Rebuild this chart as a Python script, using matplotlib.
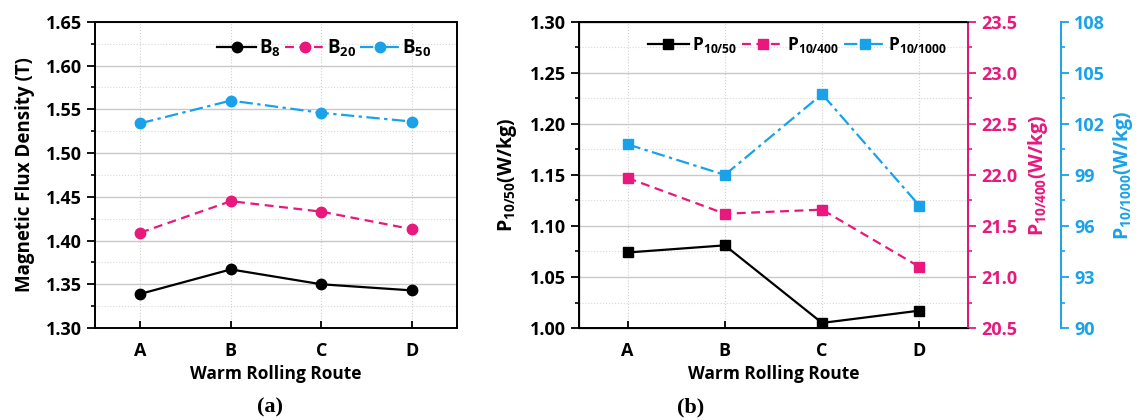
import numpy as np
import matplotlib
matplotlib.use("Agg")
import matplotlib.pyplot as plt
from matplotlib.ticker import AutoMinorLocator, MultipleLocator

plt.rcParams['font.family'] = ['Open Sans', 'DejaVu Sans']
plt.rcParams['font.weight'] = 'bold'
plt.rcParams['axes.labelweight'] = 'bold'
plt.rcParams['mathtext.fontset'] = 'custom'
plt.rcParams['mathtext.rm'] = 'Open Sans:bold'
plt.rcParams['mathtext.bf'] = 'Open Sans:bold'
plt.rcParams['mathtext.it'] = 'Open Sans:bold'

# data
routes = ['A', 'B', 'C', 'D']
b8 = [1.339, 1.367, 1.350, 1.343]
b20 = [1.409, 1.445, 1.433, 1.413]
b50 = [1.534, 1.560, 1.546, 1.536]

p10_50 = [1.074, 1.081, 1.005, 1.017]
p10_400 = [21.97, 21.62, 21.66, 21.10]
p10_1000 = [100.8, 99.0, 103.75, 97.2]

pink = '#E8187C'
blue = '#19A2EA'
x = np.arange(1, len(routes) + 1)

fig = plt.figure(figsize=(11.39, 4.2), dpi=100)
axa = fig.add_axes([0.0834, 0.219, 0.318, 0.729])
axb = fig.add_axes([0.5083, 0.219, 0.3415, 0.729])


def style_main(ax):
    ax.set_xlim(0.5, 4.5)
    ax.set_xticks(x)
    ax.set_xticklabels(routes, fontweight='bold')
    ax.yaxis.set_minor_locator(AutoMinorLocator(2))
    ax.tick_params(axis='x', direction='in', length=5, width=1.3, labelsize=13, pad=10)
    ax.tick_params(axis='y', which='major', direction='out', length=6, width=1.3, labelsize=13)
    ax.tick_params(axis='y', which='minor', direction='out', length=3, width=1.2)
    for t in ax.get_yticklabels():
        t.set_fontweight('bold')
    ax.grid(axis='y', which='major', color='#c8c8c8', lw=1.0)
    ax.grid(axis='y', which='minor', color='#d8d8d8', lw=0.8, ls=':')
    ax.grid(axis='x', which='major', color='#d0d0d0', lw=0.8, ls=':')
    ax.set_axisbelow(True)
    for s in ax.spines.values():
        s.set_linewidth(1.4)
    ax.set_xlabel('Warm Rolling Route', fontsize=12.5, labelpad=4, fontweight='bold')


# (a)
axa.plot(x, b8, '-', color='black', marker='o', ms=7.5, lw=1.6, label=r'B$_{8}$')
axa.plot(x, b20, '--', color=pink, marker='o', ms=7.5, lw=1.6, dashes=(4, 2.5), label=r'B$_{20}$')
axa.plot(x, b50, '-.', color=blue, marker='o', ms=7.5, lw=1.6, dashes=(6, 2, 1.5, 2), label=r'B$_{50}$')
axa.set_ylim(1.30, 1.65)
axa.yaxis.set_major_locator(MultipleLocator(0.05))
axa.yaxis.set_major_formatter('{x:.2f}')
style_main(axa)
axa.set_ylabel('Magnetic Flux Density (T)', fontsize=13.5, labelpad=8, fontweight='bold')
axa.legend(loc='center right', bbox_to_anchor=(0.955, 0.915), ncol=3, frameon=False,
           prop={'size': 13.5, 'weight': 'bold'}, handlelength=2.1, handletextpad=0.15,
           columnspacing=0.2, borderpad=0)

# (b)
l1, = axb.plot(x, p10_50, '-', color='black', marker='s', ms=7.5, lw=1.6, label=r'P$_{10/50}$')
axb.set_ylim(1.00, 1.30)
axb.yaxis.set_major_locator(MultipleLocator(0.05))
axb.yaxis.set_major_formatter('{x:.2f}')
style_main(axb)
axb.set_ylabel(r'P$_{10/50}$(W/kg)', fontsize=14, labelpad=8, fontweight='bold')

axp = axb.twinx()
l2, = axp.plot(x, p10_400, '--', color=pink, marker='s', ms=7.5, lw=1.6, dashes=(4, 2.5), label=r'P$_{10/400}$')
axp.set_ylim(20.5, 23.5)
axp.yaxis.set_major_locator(MultipleLocator(0.5))
axp.yaxis.set_minor_locator(AutoMinorLocator(2))
axp.yaxis.set_major_formatter('{x:.1f}')
axp.tick_params(axis='y', which='major', colors=pink, length=6, width=1.3, labelsize=13)
axp.tick_params(axis='y', which='minor', colors=pink, length=3, width=1.2)
axp.spines['right'].set_color(pink)
axp.spines['right'].set_linewidth(1.4)
axp.set_ylabel(r'P$_{10/400}$(W/kg)', fontsize=14, color=pink, labelpad=6, fontweight='bold')

axq = axb.twinx()
axq.spines['right'].set_position(('axes', 1.239))
l3, = axq.plot(x, p10_1000, '-.', color=blue, marker='s', ms=7.5, lw=1.6, dashes=(6, 2, 1.5, 2), label=r'P$_{10/1000}$')
axq.set_ylim(90, 108)
axq.yaxis.set_major_locator(MultipleLocator(3))
axq.yaxis.set_minor_locator(AutoMinorLocator(2))
axq.tick_params(axis='y', which='major', colors=blue, length=6, width=1.3, labelsize=13)
axq.tick_params(axis='y', which='minor', colors=blue, length=3, width=1.2)
axq.spines['right'].set_color(blue)
axq.spines['right'].set_linewidth(1.4)
axq.set_ylabel(r'P$_{10/1000}$(W/kg)', fontsize=14, color=blue, labelpad=4, fontweight='bold')

for a in (axp, axq):
    for t in a.get_yticklabels():
        t.set_fontweight('bold')

axb.legend(handles=[l1, l2, l3], loc='center right', bbox_to_anchor=(0.97, 0.925), ncol=3,
           frameon=False, prop={'size': 12.5, 'weight': 'bold'}, handlelength=2.4,
           handletextpad=0.15, columnspacing=0.3, borderpad=0)

fig.text(0.237, 0.03, '(a)', fontsize=16, fontweight='bold', family='Liberation Serif', ha='center', va='center')
fig.text(0.606, 0.03, '(b)', fontsize=16, fontweight='bold', family='Liberation Serif', ha='center', va='center')

fig.savefig('out.png', dpi=100)
